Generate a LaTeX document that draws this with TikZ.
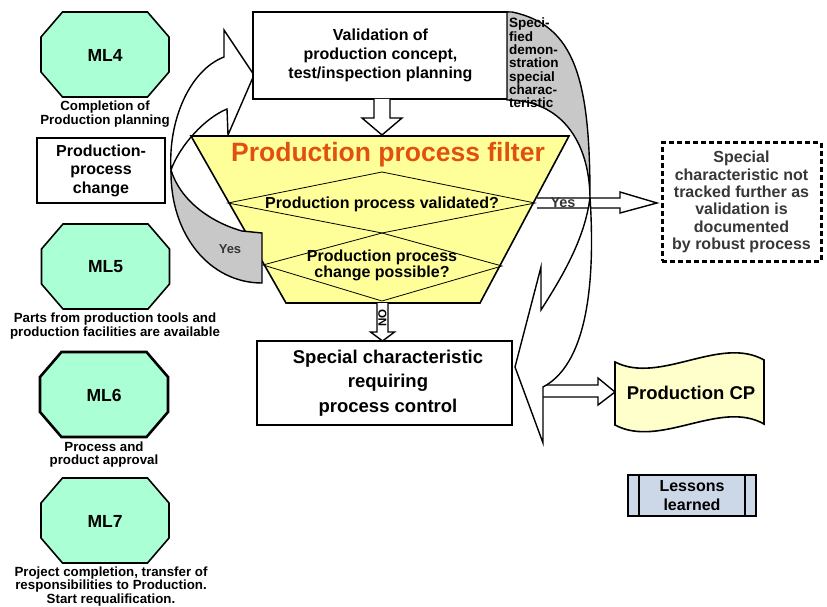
\documentclass[tikz,border=0pt]{standalone}
\usepackage{fontspec}
\setmainfont{Liberation Sans}
\begin{document}
\begin{tikzpicture}[x=1pt,y=-1pt,line join=miter]
\definecolor{mint}{RGB}{170,255,212}
\definecolor{filteryellow}{RGB}{255,255,153}
\definecolor{cpyellow}{RGB}{255,255,204}
\definecolor{lessonsblue}{RGB}{204,216,232}
\definecolor{ribbongray}{RGB}{200,200,200}
\definecolor{titleorange}{RGB}{226,80,16}
\definecolor{darktext}{RGB}{55,55,55}
\tikzset{
  txt/.style={font=\fontsize{16}{19}\selectfont\bfseries, align=center, inner sep=0pt},
  caption/.style={font=\fontsize{13.3}{13.8}\selectfont\bfseries, align=center, inner sep=0pt},
  mllabel/.style={font=\fontsize{17.5}{20}\selectfont\bfseries, inner sep=0pt},
  box/.style={draw, line width=1.6pt, fill=white, rectangle, inner sep=0pt, align=center},
  ribbonfront/.style={draw, fill=white, line width=1.4pt},
  ribbonback/.style={draw, fill=ribbongray, line width=1.4pt},
  blockarrow/.style={draw, fill=white, line width=1.4pt},
  mlshape/.style={draw, fill=mint, line width=1.6pt},
  diamondline/.style={draw, line width=0.8pt},
  pics/milestone/.style={code={
    \path[mlshape,#1] (-42.5,-42.5) -- (42.5,-42.5) -- (64,-17.5) -- (64,17.5)
      -- (42.5,42.5) -- (-42.5,42.5) -- (-64,17.5) -- (-64,-17.5) -- cycle;}},
  pics/milestone/.default={},
}
\path[use as bounding box] (0,0) rectangle (827,607);

% maturity level milestones
\pic at (105,54.5) {milestone};
\node[mllabel] (ml4) at (105,55) {ML4};
\node[caption] (ml4cap) at (105,114) {Completion of\\Production planning};

\pic at (105.5,266.5) {milestone};
\node[mllabel] (ml5) at (105.5,267) {ML5};
\node[caption] (ml5cap) at (115,326) {Parts from production tools and\\production facilities are available};

\pic at (104,394.5) {milestone={line width=2.6pt}};
\node[mllabel] (ml6) at (104,395) {ML6};
\node[caption] (ml6cap) at (104,454.5) {Process and\\product approval};

\pic at (105,520.5) {milestone};
\node[mllabel] (ml7) at (105,521) {ML7};
\node[caption, font=\fontsize{13.3}{12.2}\selectfont\bfseries] (ml7cap) at (111,586.5)
  {Project completion, transfer of\\responsibilities to Production.\\Start requalification.};

% production process change
\node[box, txt, draw, minimum width=128pt, minimum height=65pt,
      font=\fontsize{16}{18.5}\selectfont\bfseries] (change) at (101,170.5)
  {Production-\\process\\change};

% loop back arrow: front (white) side
\path[ribbonfront] (171,170) .. controls (168,120) and (190,70) .. (224,57)
  -- (224,30) -- (254,75) -- (228,135) -- (227,109)
  .. controls (205,118) and (180,145) .. (171,170) -- cycle;

% validation box
\node[box, txt, minimum width=255pt, minimum height=87pt,
      font=\fontsize{16}{19.3}\selectfont\bfseries] (valid) at (380.5,55.5)
  {Validation of\\production concept,\\test/inspection planning};

% arrow into the filter
\path[blockarrow] (374,99) -- (374,118) -- (362,118) -- (382,135) -- (402,118)
  -- (390,118) -- (390,99);

% filter
\path[draw, fill=filteryellow, line width=1.6pt] (191,136) -- (569,136) -- (480,303)
  -- (286,303) -- cycle;
\path[diamondline] (228,203) -- (382,172) -- (535,203) -- (382,233) -- cycle;
\path[diamondline] (263,265) -- (382,233) -- (502,266) -- (382,301) -- cycle;

% loop back arrow: rear (grey) side
\path[ribbonback] (171,170) .. controls (170,235) and (210,283) .. (262,283)
  -- (262,233) -- (242,231) .. controls (210,222) and (180,200) .. (171,170) -- cycle;

% "Yes" exit arrow
\path[blockarrow] (537,198) -- (620,198) -- (620,192) -- (657,203) -- (620,213)
  -- (620,208) -- (537,208);

% arrow to the production control plan
\path[blockarrow] (530,385) -- (598,385) -- (598,378) -- (615,392) -- (598,405)
  -- (598,397) -- (530,397);

% specified demonstration ribbon
\path[ribbonback] (507,12) -- (512,12) .. controls (575,25) and (590,80) .. (590,197)
  .. controls (589,140) and (560,100) .. (507,100) -- cycle;
\path[ribbonfront] (590,197) .. controls (585,240) and (560,280) .. (541,310)
  -- (541,267) -- (515,367) -- (543,443) -- (543,387)
  .. controls (585,365) and (596,290) .. (590,197) -- cycle;

% special characteristic box and NO arrow
\node[box, minimum width=255pt, minimum height=84pt,
      font=\fontsize{18.5}{24.5}\selectfont\bfseries] (special) at (384.5,383)
  {\hspace*{7pt}Special characteristic\\\hspace*{7pt}requiring\\\hspace*{7pt}process control};
\path[blockarrow] (377,303) -- (377,332) -- (370.5,332) -- (382.5,341) -- (394.5,332)
  -- (388,332) -- (388,303);
\node[rotate=90, inner sep=0pt, font=\fontsize{11.5}{12}\selectfont\bfseries] (no) at (382.5,318) {NO};

% documented by robust process
\node[box, dash pattern=on 5pt off 3pt, line width=3pt, minimum width=159pt,
      minimum height=118pt, text=darktext,
      font=\fontsize{16}{17.4}\selectfont\bfseries] (tracked) at (741.5,202)
  {Special\\characteristic not\\tracked further as\\validation is\\documented\\by robust process};

% production control plan
\path[draw, fill=cpyellow, line width=1.6pt] (615,362) .. controls (660,385) and (720,335) .. (764,360)
  -- (764,424) .. controls (720,399) and (660,449) .. (615,425) -- cycle;
\node[inner sep=0pt, font=\fontsize{18.5}{22}\selectfont\bfseries] (cp) at (691,393) {Production CP};

% lessons learned
\node[box, fill=lessonsblue, minimum width=128pt, minimum height=41pt,
      font=\fontsize{16}{19}\selectfont\bfseries] (lessons) at (692,495.5) {Lessons\\learned};
\draw[line width=1.6pt] ([xshift=12pt]lessons.north west) -- ([xshift=12pt]lessons.south west);
\draw[line width=1.6pt] ([xshift=-12pt]lessons.north east) -- ([xshift=-12pt]lessons.south east);

% labels on the filter
\node[inner sep=0pt, text=titleorange, font=\fontsize{26.5}{30}\selectfont\bfseries] (title) at (388,155)
  {Production process filter};
\node[txt] (q1) at (382,204) {Production process validated?};
\node[txt, font=\fontsize{16}{16.5}\selectfont\bfseries] (q2) at (382,265.5) {Production process\\change possible?};
\node[inner sep=0pt, font=\fontsize{13}{15}\selectfont\bfseries, text=darktext] (yesback) at (230,249) {Yes};
\node[inner sep=0pt, font=\fontsize{14.5}{15}\selectfont\bfseries, text=darktext] (yesout) at (563,203) {Yes};
\node[anchor=north west, align=left, inner sep=0pt,
      font=\fontsize{13.5}{13.3}\selectfont\bfseries] (specified) at (509,18)
  {Speci-\\fied\\demon-\\stration\\special\\charac-\\teristic};
\end{tikzpicture}
\end{document}
